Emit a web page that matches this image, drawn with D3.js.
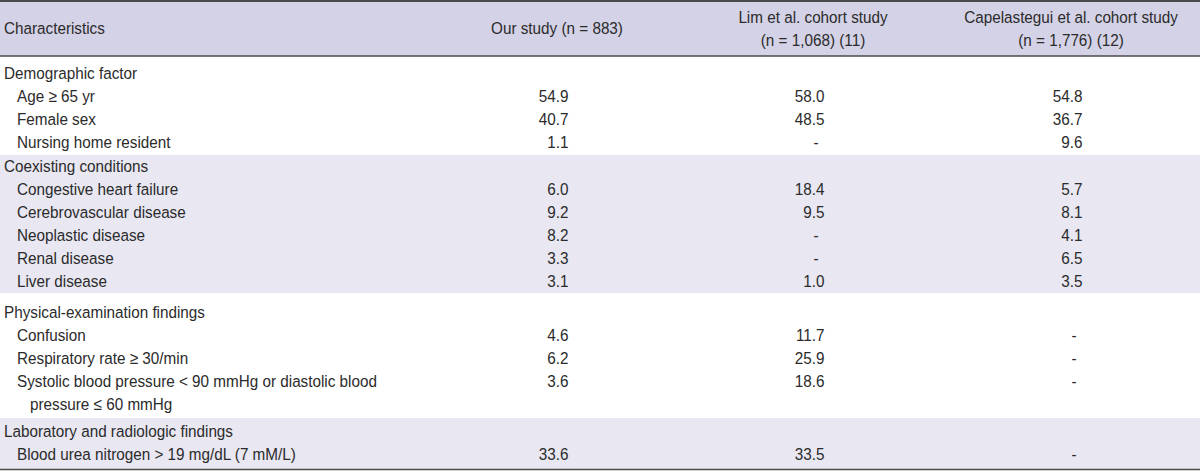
<!DOCTYPE html>
<html>
<head>
<meta charset="utf-8">
<script src="https://cdn.jsdelivr.net/npm/d3@7"></script>
<style>
  html, body { margin: 0; padding: 0; background: #fff; }
  svg { display: block; }
  text { font-family: "Liberation Sans", Arial, sans-serif; font-size: 17px; fill: #2b2b2b; }
</style>
</head>
<body>
<svg id="chart" width="1200" height="471"></svg>
<script>
// ---- data ----
const headerFirst = "Characteristics";
const studyHeaders = [
  ["Our study (n = 883)"],
  ["Lim et al. cohort study", "(n = 1,068) (11)"],
  ["Capelastegui et al. cohort study", "(n = 1,776) (12)"]
];
const groupNames = [
  "Demographic factor",
  "Coexisting conditions",
  "Physical-examination findings",
  "Laboratory and radiologic findings"
];
const characteristics = [
  ["Age \u2265 65 yr"],
  ["Female sex"],
  ["Nursing home resident"],
  ["Congestive heart failure"],
  ["Cerebrovascular disease"],
  ["Neoplastic disease"],
  ["Renal disease"],
  ["Liver disease"],
  ["Confusion"],
  ["Respiratory rate \u2265 30/min"],
  ["Systolic blood pressure < 90 mmHg or diastolic blood", "pressure \u2264 60 mmHg"],
  ["Blood urea nitrogen > 19 mg/dL (7 mM/L)"]
];
const characteristicGroup = [0, 0, 0, 1, 1, 1, 1, 1, 2, 2, 2, 3];
const ourStudy = [54.9, 40.7, 1.1, 6.0, 9.2, 8.2, 3.3, 3.1, 4.6, 6.2, 3.6, 33.6];
const limStudy = [58.0, 48.5, null, 18.4, 9.5, null, null, 1.0, 11.7, 25.9, 18.6, 33.5];
const capStudy = [54.8, 36.7, 9.6, 5.7, 8.1, 4.1, 6.5, 3.5, null, null, null, null];

// ---- layout ----
const W = 1200;
const svg = d3.select("#chart");
const lineH = 23;
const headerTop = 1, headerBottom = 56;
const groupTops = [56, 155, 293, 418];
const groupBottoms = [155, 293, 418, 469];
const groupFirstLine = [73, 166, 312, 431];
const bandFill = ["#ffffff", "#e8e7f2", "#ffffff", "#e8e7f2"];
const headerFill = "#d4d2e6";
const ruleColor = "#4b4b4b";
const studyKeys = ["our", "lim", "cap"];
const colCenter = d3.scaleOrdinal().domain(studyKeys).range([557, 813, 1071]);
const valueShift = 11.5;   // right edge of numbers relative to column centre
const dashShift = 3;
const labelX = 4, indentX = 17, wrapX = 30;
const fmt = d3.format(".1f");

// condensed look: measure the reference word and squeeze horizontally
const probe = svg.append("text").text(headerFirst);
const sx = 101 / probe.node().getComputedTextLength();
probe.remove();

function addText(x, y, t, anchor) {
  return svg.append("text")
    .attr("transform", `translate(${x},${y}) scale(${sx},1)`)
    .attr("dy", "0.35em")
    .attr("text-anchor", anchor || "start")
    .text(t);
}

// bands
svg.append("rect").attr("x", 0).attr("y", headerTop).attr("width", W)
  .attr("height", headerBottom - headerTop).attr("fill", headerFill);
svg.selectAll("rect.band").data(groupNames).enter().append("rect")
  .attr("class", "band")
  .attr("x", 0).attr("width", W)
  .attr("y", (d, i) => groupTops[i])
  .attr("height", (d, i) => groupBottoms[i] - groupTops[i])
  .attr("fill", (d, i) => bandFill[i]);

// rules
svg.append("line").attr("x1", 0).attr("x2", W).attr("y1", 1).attr("y2", 1)
  .attr("stroke", ruleColor).attr("stroke-width", 2);
svg.append("line").attr("x1", 0).attr("x2", W).attr("y1", headerBottom).attr("y2", headerBottom)
  .attr("stroke", ruleColor).attr("stroke-width", 1.5);
svg.append("line").attr("x1", 0).attr("x2", W).attr("y1", 469.5).attr("y2", 469.5)
  .attr("stroke", ruleColor).attr("stroke-width", 1.5);

// header text
addText(labelX, 28, headerFirst);
studyHeaders.forEach((lines, i) => {
  const y0 = lines.length === 1 ? 28 : 17;
  lines.forEach((t, j) => addText(colCenter(studyKeys[i]), y0 + j * lineH, t, "middle"));
});

// line positions for each characteristic
const rowY = [];
const counters = groupFirstLine.map(y => y + lineH);
characteristics.forEach((lines, i) => {
  const g = characteristicGroup[i];
  rowY.push(counters[g]);
  counters[g] += lines.length * lineH;
});

// group titles
groupNames.forEach((t, i) => addText(labelX, groupFirstLine[i], t));

// characteristic labels
characteristics.forEach((lines, i) => {
  lines.forEach((t, j) => addText(j === 0 ? indentX : wrapX, rowY[i] + j * lineH, t));
});

// values
const series = { our: ourStudy, lim: limStudy, cap: capStudy };
studyKeys.forEach(k => {
  series[k].forEach((d, i) => {
    if (d == null) addText(colCenter(k) + dashShift, rowY[i], "-", "middle");
    else addText(colCenter(k) + valueShift, rowY[i], fmt(d), "end");
  });
});
</script>
</body>
</html>
